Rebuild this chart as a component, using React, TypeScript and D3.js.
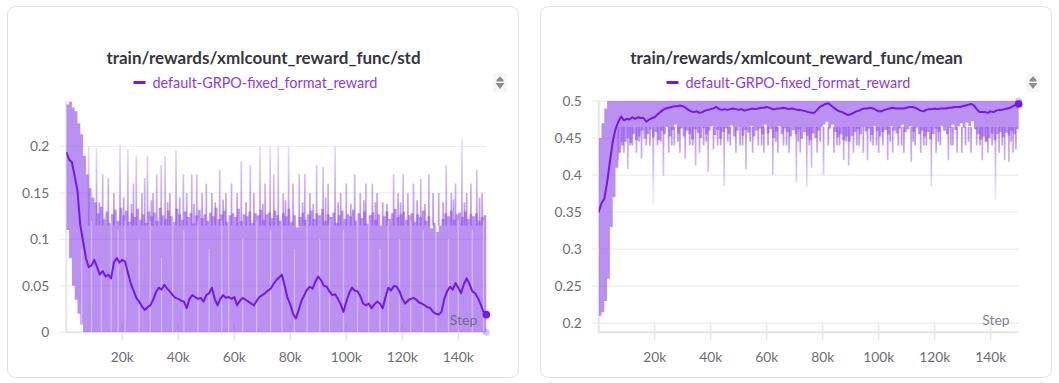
import React from "react";
import * as d3 from "d3";

// ---------- data ----------
const X_TICKS = [20000, 40000, 60000, 80000, 100000, 120000, 140000];
const X_TICK_LABELS = ["20k", "40k", "60k", "80k", "100k", "120k", "140k"];

const STD_Y_TICKS = [0, 0.05, 0.1, 0.15, 0.2];
const STD_Y_LABELS = ["0", "0.05", "0.1", "0.15", "0.2"];
const MEAN_Y_TICKS = [0.2, 0.25, 0.3, 0.35, 0.4, 0.45, 0.5];
const MEAN_Y_LABELS = ["0.2", "0.25", "0.3", "0.35", "0.4", "0.45", "0.5"];

// smoothed line, one value per 1k steps (0 .. 150k)
const STD_LINE = [0.194,0.186,0.183,0.168,0.152,0.115,0.098,0.080,0.070,0.072,0.078,0.070,0.062,0.066,0.060,0.062,0.058,0.075,0.080,0.075,
0.078,0.076,0.064,0.053,0.045,0.037,0.033,0.028,0.024,0.027,0.029,0.035,0.043,0.048,0.046,0.051,0.047,0.044,0.040,0.037,
0.036,0.034,0.033,0.026,0.036,0.040,0.038,0.036,0.037,0.033,0.040,0.042,0.048,0.036,0.029,0.036,0.040,0.037,0.038,0.036,
0.038,0.029,0.034,0.037,0.035,0.033,0.031,0.029,0.034,0.038,0.040,0.042,0.045,0.047,0.052,0.056,0.059,0.062,0.050,0.037,
0.030,0.020,0.015,0.024,0.034,0.040,0.046,0.049,0.047,0.055,0.060,0.056,0.050,0.049,0.044,0.040,0.041,0.036,0.030,0.022,
0.033,0.042,0.048,0.045,0.044,0.039,0.031,0.029,0.031,0.026,0.030,0.033,0.031,0.026,0.038,0.048,0.045,0.050,0.049,0.044,
0.036,0.031,0.034,0.036,0.037,0.035,0.032,0.031,0.029,0.027,0.026,0.022,0.020,0.019,0.022,0.036,0.044,0.049,0.046,0.053,
0.048,0.042,0.052,0.058,0.052,0.044,0.042,0.037,0.030,0.022,0.019];

const MEAN_LINE = [0.350,0.362,0.368,0.390,0.418,0.445,0.462,0.472,0.479,0.474,0.476,0.475,0.478,0.476,0.478,0.477,0.477,0.472,0.475,0.477,
0.478,0.482,0.485,0.488,0.490,0.491,0.492,0.493,0.493,0.494,0.493,0.491,0.488,0.486,0.485,0.486,0.484,0.485,0.487,0.488,
0.489,0.490,0.492,0.489,0.488,0.489,0.488,0.489,0.490,0.489,0.488,0.489,0.487,0.488,0.489,0.490,0.489,0.490,0.491,0.491,
0.492,0.491,0.489,0.489,0.490,0.490,0.491,0.490,0.489,0.490,0.489,0.488,0.488,0.487,0.486,0.485,0.484,0.484,0.488,0.492,
0.494,0.496,0.497,0.494,0.491,0.488,0.486,0.485,0.483,0.481,0.482,0.484,0.486,0.487,0.489,0.490,0.490,0.491,0.490,0.488,
0.486,0.486,0.488,0.489,0.490,0.491,0.490,0.490,0.490,0.490,0.491,0.492,0.492,0.491,0.489,0.487,0.486,0.488,0.489,0.489,
0.490,0.489,0.490,0.490,0.490,0.491,0.491,0.492,0.492,0.492,0.493,0.494,0.495,0.496,0.494,0.489,0.485,0.485,0.485,0.484,
0.486,0.485,0.487,0.488,0.488,0.489,0.490,0.491,0.493,0.495,0.496];

// raw-value band (dense part), one value per 1k steps (0 .. 150k), rows of 10
const STD_BAND_HI = [
0.245,0.248,0.242,0.238,0.225,0.213,0.190,0.170,0.155,0.145,
0.140,0.128,0.135,0.122,0.130,0.118,0.127,0.132,0.120,0.134,
0.126,0.131,0.119,0.128,0.124,0.133,0.121,0.127,0.118,0.130,
0.125,0.129,0.120,0.134,0.126,0.122,0.131,0.125,0.119,0.133,
0.127,0.121,0.130,0.124,0.128,0.117,0.126,0.132,0.123,0.127,
0.120,0.129,0.125,0.134,0.122,0.127,0.131,0.119,0.126,0.128,
0.124,0.133,0.120,0.127,0.125,0.130,0.118,0.128,0.126,0.132,
0.121,0.127,0.129,0.123,0.131,0.126,0.120,0.128,0.125,0.133,
0.119,0.126,0.113,0.124,0.129,0.121,0.127,0.131,0.122,0.128,
0.126,0.133,0.120,0.127,0.124,0.129,0.118,0.126,0.131,0.122,
0.127,0.125,0.132,0.120,0.128,0.123,0.130,0.117,0.126,0.129,
0.121,0.127,0.115,0.125,0.130,0.122,0.128,0.133,0.124,0.127,
0.130,0.121,0.126,0.128,0.119,0.127,0.124,0.131,0.120,0.125,
0.112,0.118,0.108,0.115,0.122,0.128,0.125,0.131,0.121,0.127,
0.129,0.124,0.130,0.122,0.127,0.125,0.128,0.120,0.124,0.126,
0.118];
const STD_BAND_LO = [
0.110,0.080,0.050,0.035,0.020,0.008,0,0,0,0,
0,0,0,0,0,0,0,0,0,0,
0,0,0,0,0,0,0,0,0,0,
0,0,0,0,0,0,0,0,0,0,
0,0,0,0,0,0,0,0,0,0,
0,0,0,0,0,0,0,0,0,0,
0,0,0,0,0,0,0,0,0,0,
0,0,0,0,0,0,0,0,0,0,
0,0,0,0,0,0,0,0,0,0,
0,0,0,0,0,0,0,0,0,0,
0,0,0,0,0,0,0,0,0,0,
0,0,0,0,0,0,0,0,0,0,
0,0,0,0,0,0,0,0,0,0,
0,0,0,0,0,0,0,0,0,0,
0,0,0,0,0,0,0,0,0,0,
0];

const MEAN_BAND_HI = [
0.450,0.470,0.490,0.500,0.500,0.500,0.500,0.500,0.500,0.500,
0.5,0.5,0.5,0.5,0.5,0.5,0.5,0.5,0.5,0.5,
0.5,0.5,0.5,0.5,0.5,0.5,0.5,0.5,0.5,0.5,
0.5,0.5,0.5,0.5,0.5,0.5,0.5,0.5,0.5,0.5,
0.5,0.5,0.5,0.5,0.5,0.5,0.5,0.5,0.5,0.5,
0.5,0.5,0.5,0.5,0.5,0.5,0.5,0.5,0.5,0.5,
0.5,0.5,0.5,0.5,0.5,0.5,0.5,0.5,0.5,0.5,
0.5,0.5,0.5,0.5,0.5,0.5,0.5,0.5,0.5,0.5,
0.5,0.5,0.5,0.5,0.5,0.5,0.5,0.5,0.5,0.5,
0.5,0.5,0.5,0.5,0.5,0.5,0.5,0.5,0.5,0.5,
0.5,0.5,0.5,0.5,0.5,0.5,0.5,0.5,0.5,0.5,
0.5,0.5,0.5,0.5,0.5,0.5,0.5,0.5,0.5,0.5,
0.5,0.5,0.5,0.5,0.5,0.5,0.5,0.5,0.5,0.5,
0.5,0.5,0.5,0.5,0.5,0.5,0.5,0.5,0.5,0.5,
0.5,0.5,0.5,0.5,0.5,0.5,0.5,0.5,0.5,0.5,
0.5];
const MEAN_BAND_LO = [
0.210,0.215,0.230,0.260,0.330,0.370,0.410,0.430,0.440,0.445,
0.450,0.443,0.455,0.447,0.452,0.460,0.449,0.455,0.462,0.451,
0.458,0.447,0.460,0.455,0.465,0.452,0.461,0.468,0.456,0.463,
0.452,0.460,0.455,0.448,0.462,0.457,0.450,0.464,0.455,0.460,
0.466,0.454,0.461,0.449,0.458,0.463,0.455,0.467,0.452,0.460,
0.465,0.453,0.461,0.457,0.466,0.452,0.460,0.463,0.455,0.468,
0.456,0.462,0.450,0.459,0.466,0.455,0.463,0.458,0.452,0.461,
0.455,0.462,0.449,0.458,0.453,0.447,0.456,0.450,0.460,0.465,
0.468,0.472,0.463,0.468,0.458,0.451,0.455,0.447,0.452,0.445,
0.453,0.458,0.462,0.455,0.465,0.459,0.463,0.454,0.466,0.460,
0.452,0.458,0.461,0.455,0.466,0.460,0.456,0.463,0.468,0.458,
0.462,0.466,0.459,0.464,0.455,0.460,0.452,0.458,0.448,0.455,
0.463,0.458,0.466,0.460,0.455,0.464,0.468,0.461,0.466,0.470,
0.464,0.471,0.466,0.473,0.462,0.455,0.448,0.452,0.445,0.450,
0.456,0.447,0.455,0.458,0.451,0.457,0.453,0.460,0.455,0.462,
0.470];

// last raw value of each run (faint end marker)
const STD_RAW_LAST = 0;
const MEAN_RAW_LAST = 0.5;

// isolated raw spikes (step in k, value)
const STD_SPIKE_STEPS = [8,10.8,13,15,17,19.2,22,24,25,27,28,29,31,32.3,33.9,35.3,37,39.2,41.8,43,44.8,46.6,48.5,50,52,54.8,57,59,61,62.5,
65.7,67,69.2,71,72.8,74.1,75.7,77.5,79.4,81,83.2,85.2,87,89.4,91.7,93.5,96,98,100,103,105,107,109.3,111,113,116.9,118.5,120.3,122,124,
126.6,129.5,131,133,135.7,137.5,139,141.3,143,144.5,146.6,148.5,
11.8,20.5,23.3,30.4,36.2,40.5,45.6,53.2,56,64.2,70.2,78.3,84.4,88.2,92.6,97.1,101.6,106.3,110.4,114.5,119.4,125.3,128.1,134.6,138.3,142.2,147.6];
const STD_SPIKE_VALUES = [0.2,0.198,0.17,0.166,0.15,0.202,0.197,0.16,0.19,0.15,0.166,0.19,0.15,0.17,0.18,0.19,0.15,0.196,0.17,0.15,0.17,0.17,0.15,0.16,0.15,0.175,0.15,0.16,0.15,0.184,
0.18,0.15,0.2,0.16,0.2,0.17,0.2,0.15,0.2,0.16,0.17,0.17,0.15,0.18,0.178,0.16,0.2,0.15,0.16,0.17,0.15,0.16,0.16,0.15,0.14,0.17,0.15,0.17,0.15,0.16,
0.165,0.17,0.15,0.15,0.18,0.15,0.16,0.21,0.15,0.16,0.175,0.15,
0.14,0.145,0.138,0.142,0.14,0.145,0.138,0.14,0.143,0.14,0.138,0.142,0.14,0.138,0.145,0.14,0.138,0.142,0.14,0.138,0.14,0.142,0.138,0.14,0.143,0.14,0.145];
const STD_GAP_STEPS = [5.5,9,12.5,16,18.5,21,26,30,34,38,42,47,51,55.5,58,63,68,73,77,81.5,86,90.5,94,99,104,108,112,115,119,123,127.5,132,136.5,140,145,149];
const STD_GAP_TOPS = [0.09,0.12,0.07,0.12,0.11,0.12,0.1,0.12,0.08,0.12,0.11,0.12,0.09,0.12,0.12,0.1,0.12,0.11,0.12,0.09,0.12,0.1,0.12,0.11,0.12,0.12,0.09,0.12,0.1,0.12,0.11,0.12,0.1,0.12,0.11,0.12];

const MEAN_SPIKE_STEPS = [7,9,10.4,12,13.5,15.3,17,19.5,21,23.1,25,27,29,30.9,32.5,34.6,36,37.5,39.1,41,42.5,44.8,47,49,50.5,52.6,55,57,59,60.5,
62.2,64,66,68,70.6,72,74.3,76,78,80.3,82,84,86,87.5,89.3,91,93,94.5,96,98,100,101.5,103.2,105,107,109,111.6,113,115,117,
118.8,120.5,122,124.9,126.5,128,129.7,131,133,135,137,139,140.5,141.7,143,145,146.5,148,149,
8.2,11.2,14.4,18.3,22.2,26.1,28.3,33.6,38.4,43.6,46.1,51.4,54.1,58.2,63.3,67.1,71.3,75.2,79.1,85.1,88.4,92.2,97.1,99.2,104.1,108.2,112.3,116.1,121.3,125.8,132.1,136.2,138.2,144.1,147.3];
const MEAN_SPIKE_VALUES = [0.42,0.43,0.408,0.44,0.43,0.422,0.44,0.362,0.44,0.399,0.43,0.44,0.43,0.422,0.44,0.413,0.43,0.44,0.404,0.435,0.44,0.385,0.44,0.43,0.44,0.408,0.43,0.44,0.43,0.44,
0.40,0.43,0.44,0.43,0.39,0.43,0.384,0.41,0.43,0.40,0.44,0.43,0.44,0.42,0.413,0.43,0.44,0.43,0.42,0.44,0.43,0.44,0.42,0.43,0.44,0.43,0.418,0.44,0.43,0.44,
0.385,0.43,0.44,0.42,0.44,0.43,0.43,0.44,0.43,0.44,0.42,0.43,0.44,0.367,0.43,0.42,0.418,0.43,0.435,
0.445,0.44,0.445,0.44,0.445,0.44,0.445,0.44,0.445,0.44,0.445,0.44,0.445,0.44,0.445,0.44,0.445,0.44,0.445,0.44,0.445,0.44,0.445,0.44,0.445,0.44,0.445,0.44,0.445,0.44,0.445,0.44,0.445,0.44,0.445];

const SERIES_NAME = "default-GRPO-fixed_format_reward";
const TITLES = ["train/rewards/xmlcount_reward_func/std", "train/rewards/xmlcount_reward_func/mean"];

// ---------- styling ----------
const LINE_COLOR = "#7418e6";
const BAND_COLOR = "rgba(140,70,232,0.6)";
const LEGEND_TEXT = "#8a3cec";
const FONT = "Lato, 'Open Sans', sans-serif";

type Cfg = {
  left: number;
  x0: number;
  yDomain: [number, number];
  yTicks: number[];
  yLabels: string[];
  line: number[];
  bandHi: number[];
  bandLo: number[];
  rawLast: number;
  spikeSteps: number[];
  spikeValues: number[];
  spikeBase: number;
  spikeFar: number;
  gapSteps: number[];
  gapTops: number[];
  title: string;
  id: string;
};

const PLOT_TOP = 101;
const PLOT_BOTTOM = 332.3;
const PLOT_W = 420;

function Chart({ cfg }: { cfg: Cfg }) {
  const x = d3.scaleLinear().domain([0, 150000]).range([cfg.x0, cfg.x0 + PLOT_W]);
  const y = d3.scaleLinear().domain(cfg.yDomain).range([PLOT_BOTTOM, PLOT_TOP]);
  const line = d3.line<number>().x((_, i) => x(i * 1000)).y((d) => y(d));
  const area = d3
    .area<number>()
    .curve(d3.curveStepAfter)
    .x((_, i) => x(i * 1000))
    .y0((_, i) => y(cfg.bandLo[i]))
    .y1((d) => y(d));
  const lastIdx = cfg.line.length - 1;
  const cardX = cfg.left;
  const cardW = 511;
  const cx = cardX + cardW / 2 + 1;
  const clipId = `clip-${cfg.id}`;
  const gradId = `grad-${cfg.id}`;
  return (
    <g>
      <rect x={cardX + 0.5} y={6.5} width={cardW} height={371} rx={8} fill="#fff" stroke="#e1e1e4" />
      <text x={cx} y={63.5} textAnchor="middle" fontFamily={FONT} fontWeight={700} fontSize={17} fill="#363640">
        {cfg.title}
      </text>
      {/* legend */}
      <line x1={cx - 130} x2={cx - 118} y1={82.5} y2={82.5} stroke={LINE_COLOR} strokeWidth={3} />
      <text x={cx - 111} y={87.5} fontFamily={FONT} fontSize={14.4} fill={LEGEND_TEXT}>
        {SERIES_NAME}
      </text>
      {/* sort icon */}
      <g transform={`translate(${cardX + 487},${74})`}>
        <rect x={-1} y={-1} width={14} height={19} rx={2} fill="#f6f6f7" />
        <path d="M2.5,6 L6,2.2 L9.5,6 Z" fill="#8a8a8f" />
        <rect x={2.5} y={6} width={7} height={1.5} fill="#8a8a8f" />
        <path d="M1.5,9 L10.5,9 L6,15 Z" fill="#8a8a8f" />
      </g>
      <defs>
        <clipPath id={clipId}>
          <rect x={cfg.x0} y={PLOT_TOP} width={PLOT_W + 1} height={PLOT_BOTTOM - PLOT_TOP} />
        </clipPath>
        <linearGradient id={gradId} gradientUnits="userSpaceOnUse" x1={0} x2={0} y1={y(cfg.spikeBase)} y2={y(cfg.spikeFar)}>
          <stop offset="0" stopColor="rgb(150,90,236)" stopOpacity={0.7} />
          <stop offset="1" stopColor="rgb(150,90,236)" stopOpacity={0.15} />
        </linearGradient>
      </defs>
      {/* grid */}
      {cfg.yTicks.map((t, i) => (
        <g key={i}>
          <line x1={cfg.x0 - 7} x2={cfg.x0 + PLOT_W} y1={y(t)} y2={y(t)} stroke="#eeeef0" strokeWidth={1.3} />
          <text x={cfg.x0 - 17} y={y(t)} dy="0.35em" textAnchor="end" fontFamily={FONT} fontSize={13.8} fill="#6e6e78">
            {cfg.yLabels[i]}
          </text>
        </g>
      ))}
      {X_TICKS.map((t, i) => (
        <g key={i}>
          <line x1={x(t)} x2={x(t)} y1={PLOT_BOTTOM - 8} y2={PLOT_BOTTOM + 8} stroke="#e6e6e9" strokeWidth={1.5} />
          <text x={x(t)} y={357} dy="0.35em" textAnchor="middle" fontFamily={FONT} fontSize={13.8} fill="#6e6e78">
            {X_TICK_LABELS[i]}
          </text>
        </g>
      ))}
      <line x1={cfg.x0} x2={cfg.x0} y1={PLOT_TOP} y2={PLOT_BOTTOM} stroke="#e6e6e9" strokeWidth={2} />
      <line x1={cfg.x0 - 1} x2={cfg.x0 + PLOT_W} y1={PLOT_BOTTOM} y2={PLOT_BOTTOM} stroke="#e3e3e6" strokeWidth={2} />
      {/* data */}
      <g clipPath={`url(#${clipId})`}>
        <path d={area(cfg.bandHi) || ""} fill={BAND_COLOR} />
        {cfg.spikeSteps.map((s, i) => (
          <line
            key={"s" + i}
            x1={x(s * 1000)}
            x2={x(s * 1000)}
            y1={y(cfg.spikeBase)}
            y2={y(cfg.spikeValues[i])}
            stroke={`url(#${gradId})`}
            strokeWidth={1.8}
          />
        ))}
        {cfg.gapSteps.map((s, i) => (
          <line
            key={"g" + i}
            x1={x(s * 1000)}
            x2={x(s * 1000)}
            y1={y(0)}
            y2={y(cfg.gapTops[i])}
            stroke="rgba(255,255,255,0.4)"
            strokeWidth={1.2}
          />
        ))}
        <path d={line(cfg.line) || ""} fill="none" stroke={LINE_COLOR} strokeWidth={2} strokeLinejoin="round" />
      </g>
      <circle cx={x(lastIdx * 1000)} cy={y(cfg.rawLast)} r={3.5} fill="rgba(170,125,240,0.45)" />
      <circle cx={x(lastIdx * 1000)} cy={y(cfg.line[lastIdx])} r={3.8} fill={LINE_COLOR} />
      <text x={cfg.x0 + PLOT_W - 9} y={325} textAnchor="end" fontFamily={FONT} fontSize={14} fill="rgba(95,95,110,0.8)">
        Step
      </text>
    </g>
  );
}

const CHARTS: Cfg[] = [
  {
    id: "std",
    left: 7,
    x0: 66.3,
    yDomain: [0, 0.2489],
    yTicks: STD_Y_TICKS,
    yLabels: STD_Y_LABELS,
    line: STD_LINE,
    bandHi: STD_BAND_HI,
    bandLo: STD_BAND_LO,
    rawLast: STD_RAW_LAST,
    spikeSteps: STD_SPIKE_STEPS,
    spikeValues: STD_SPIKE_VALUES,
    spikeBase: 0.115,
    spikeFar: 0.21,
    gapSteps: STD_GAP_STEPS,
    gapTops: STD_GAP_TOPS,
    title: TITLES[0],
  },
  {
    id: "mean",
    left: 540,
    x0: 598.7,
    yDomain: [0.1878, 0.5],
    yTicks: MEAN_Y_TICKS,
    yLabels: MEAN_Y_LABELS,
    line: MEAN_LINE,
    bandHi: MEAN_BAND_HI,
    bandLo: MEAN_BAND_LO,
    rawLast: MEAN_RAW_LAST,
    spikeSteps: MEAN_SPIKE_STEPS,
    spikeValues: MEAN_SPIKE_VALUES,
    spikeBase: 0.465,
    spikeFar: 0.37,
    gapSteps: [],
    gapTops: [],
    title: TITLES[1],
  },
];

export default function App() {
  return (
    <svg
      width={1059}
      height={383}
      viewBox="0 0 1059 383"
      style={{ position: "absolute", left: 0, top: 0, display: "block", background: "#fff" }}
    >
      <rect width={1059} height={383} fill="#fff" />
      {CHARTS.map((c) => (
        <Chart key={c.id} cfg={c} />
      ))}
    </svg>
  );
}
